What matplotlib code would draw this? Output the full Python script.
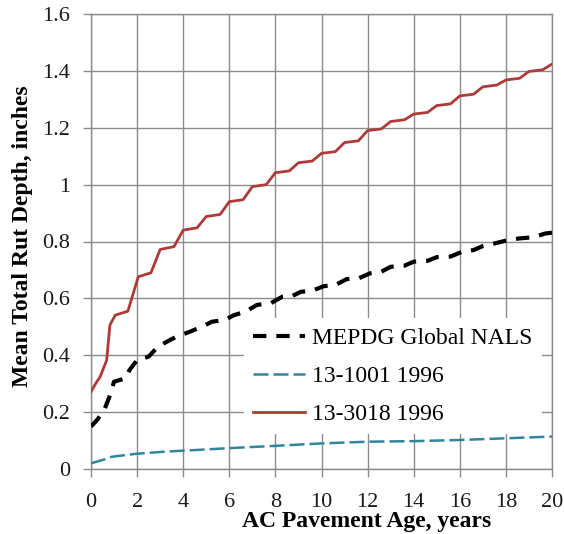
import matplotlib
matplotlib.use('Agg')
import matplotlib.pyplot as plt

plt.rcParams['font.family'] = ['Liberation Serif', 'DejaVu Serif']

# MEPDG Global NALS
black_age = [0, 0.3, 0.6, 0.8, 1.0, 1.5, 1.67, 2.0, 2.5, 2.9, 3.3, 3.7, 4.3, 4.8, 5.25, 5.8,
             6.2, 6.7, 7.2, 7.8, 8.3, 8.7, 9.1, 9.6, 10.1, 10.6, 11.1, 11.6, 12.1, 12.6,
             13.0, 13.6, 14.0, 14.6, 15.0, 15.6, 16.1, 16.6, 17.0, 17.5, 18.1, 18.6,
             19.2, 19.7, 20.0]
black_rut = [0.149, 0.176, 0.213, 0.254, 0.307, 0.319, 0.348, 0.383, 0.395, 0.43, 0.448,
             0.465, 0.483, 0.50, 0.518, 0.524, 0.541, 0.553, 0.577, 0.583, 0.606, 0.607,
             0.623, 0.627, 0.643, 0.647, 0.668, 0.670, 0.688, 0.694, 0.711, 0.715, 0.729,
             0.732, 0.745, 0.747, 0.764, 0.77, 0.784, 0.793, 0.805, 0.811, 0.815, 0.828,
             0.831]

# 13-1001 1996
blue_age = [0, 0.6, 0.9, 1.9, 3.2, 4.6, 5.9, 7.9, 10, 12, 14, 16, 18, 20]
blue_rut = [0.02, 0.034, 0.043, 0.053, 0.061, 0.067, 0.073, 0.081, 0.09, 0.096, 0.098,
            0.102, 0.108, 0.114]

# 13-3018 1996
red_age = [0, 0.2, 0.4, 0.68, 0.82, 1.05, 1.6, 2.05, 2.6, 3.0, 3.6, 4.0, 4.6, 5.0, 5.6,
           6.0, 6.6, 7.0, 7.6, 8.0, 8.6, 9.0, 9.6, 10.0, 10.6, 11.0, 11.6, 12.0, 12.6,
           13.0, 13.6, 14.0, 14.6, 15.0, 15.6, 16.0, 16.6, 17.0, 17.6, 18.0, 18.6, 19.0,
           19.6, 20.0]
red_rut = [0.272, 0.30, 0.325, 0.383, 0.506, 0.541, 0.555, 0.676, 0.69, 0.772, 0.782,
           0.84, 0.848, 0.888, 0.895, 0.94, 0.947, 0.993, 1.0, 1.042, 1.048, 1.077, 1.083,
           1.11, 1.116, 1.148, 1.154, 1.19, 1.196, 1.222, 1.228, 1.248, 1.254, 1.278,
           1.284, 1.312, 1.318, 1.344, 1.35, 1.368, 1.374, 1.398, 1.404, 1.424]

xticks = [0, 2, 4, 6, 8, 10, 12, 14, 16, 18, 20]
yticks = [0, 0.2, 0.4, 0.6, 0.8, 1.0, 1.2, 1.4, 1.6]
ytick_labels = ['0', '0.2', '0.4', '0.6', '0.8', '1', '1.2', '1.4', '1.6']

grid_c = '#8c8c8c'

fig = plt.figure(figsize=(5.64, 5.34), dpi=100)
ax = fig.add_axes([91/564, 65/534, 461/564, 455/534])

ax.plot(black_age, black_rut, color='black', lw=3.0, dashes=(3.2, 2.4),
        label='MEPDG Global NALS', zorder=3)
ax.plot(blue_age, blue_rut, color='#31859C', lw=1.8, dashes=(6, 2),
        label='13-1001 1996', zorder=3)
ax.plot(red_age, red_rut, color='#B03A37', lw=2.0, label='13-3018 1996', zorder=3)

ax.set_xlim(0, 20)
ax.set_ylim(0, 1.6)
ax.set_xticks(xticks)
ax.set_yticks(yticks)
ax.set_yticklabels(ytick_labels)
ax.grid(True, color=grid_c, lw=1.0)
ax.set_axisbelow(True)
for s in ax.spines.values():
    s.set_color(grid_c)
    s.set_linewidth(1.0)
ax.tick_params(axis='both', direction='out', length=6, width=1.0, color=grid_c,
               labelsize=16, labelcolor='#1a1a1a')
ax.tick_params(axis='y', pad=9)
ax.tick_params(axis='x', pad=11)

ax.set_xlabel('AC Pavement Age, years', fontsize=17, fontweight='bold')
ax.xaxis.set_label_coords(0.597, -0.092)
ax.set_ylabel('Mean Total Rut Depth, inches', fontsize=17, fontweight='bold')
ax.yaxis.set_label_coords(-0.126, 0.512)

leg = ax.legend(loc='upper left', bbox_to_anchor=(0.331, 0.332), fontsize=17,
                frameon=True, fancybox=False, framealpha=1, facecolor='white',
                edgecolor='none', borderaxespad=0, borderpad=0.4,
                handlelength=2.2, handletextpad=0.3, labelspacing=0.7)
leg.set_zorder(4)

fig.savefig('out.png', dpi=100)
